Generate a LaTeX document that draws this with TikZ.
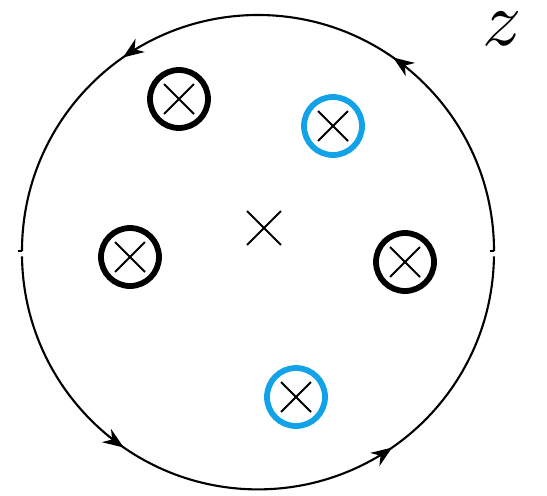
\documentclass[tikz,border=0pt]{standalone}
\usepackage{tikz}
\usetikzlibrary{arrows.meta,decorations.markings,shapes.misc}
\definecolor{PoleBlue}{HTML}{12A2E8}

\tikzset{
  pole/.style={circle,draw,line width=3.3pt,inner sep=0pt,minimum size=1.16cm,
    path picture={\draw[black,line width=1.1pt]
      ([shift={(-0.3cm,-0.3cm)}]path picture bounding box.center) -- ++(0.6cm,0.6cm)
      ([shift={(-0.3cm,0.3cm)}]path picture bounding box.center) -- ++(0.6cm,-0.6cm);}},
  bluepole/.style={pole,draw=PoleBlue},
  plainx/.style={cross out,draw,line width=1.1pt,inner sep=0pt,minimum size=0.64cm},
  contour/.style={draw,line width=1.2pt,postaction={decorate},
    decoration={markings,
      mark=at position 0.306 with {\arrow{Stealth[length=0.42cm,width=0.32cm]}},
      mark=at position 0.694 with {\arrow{Stealth[length=0.42cm,width=0.32cm]}}}}
}

\begin{document}
\begin{tikzpicture}[x=0.02cm,y=0.02cm]
\path[use as bounding box] (0,0) rectangle (547,495);
% contour, split on the real axis
\coordinate (o) at (258,244);
\coordinate (east) at (494,244);
\coordinate (west) at (22,244);
\path[contour] (east) arc[start angle=0,end angle=180,radius=236];
\path[contour] ([yshift=-3pt]west) arc[start angle=180.7,end angle=359.3,radius=236];
\draw[line width=1.2pt] (west) -- ++(-4,0);
\draw[line width=1.2pt] (east) -- ++(-4,0);
% poles
\node[pole] (p1) at (179,396) {};
\node[bluepole] (p2) at (333,369) {};
\node[pole] (p3) at (130,238) {};
\node[pole] (p4) at (405,233) {};
\node[bluepole] (p5) at (296,98) {};
\node[plainx] (p0) at (264,267) {};
% variable
\node[scale=4.4,inner sep=0pt] (zlabel) at (502,466) {$z$};
\end{tikzpicture}
\end{document}
